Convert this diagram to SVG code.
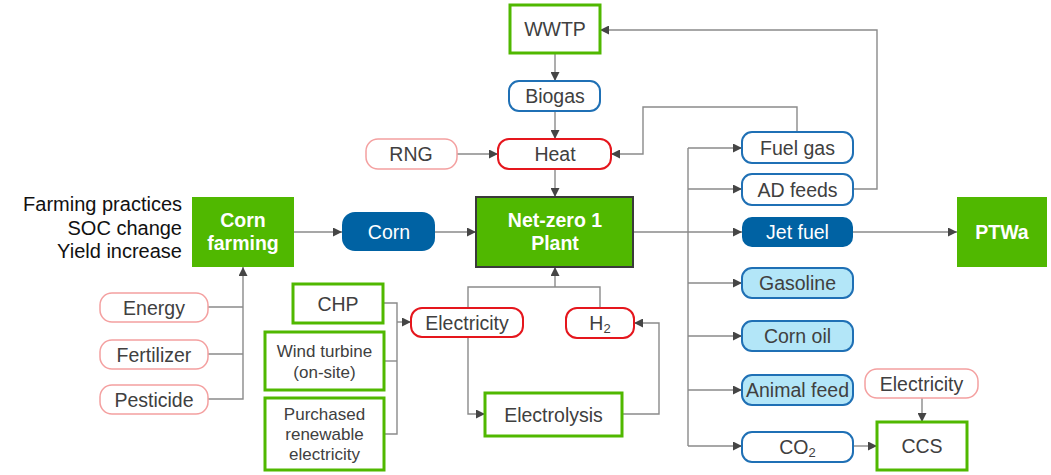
<svg xmlns="http://www.w3.org/2000/svg" width="1051" height="475" viewBox="0 0 1051 475">
<defs>
<marker id="arr" markerUnits="userSpaceOnUse" markerWidth="9" markerHeight="9" refX="9" refY="4.5" orient="auto">
<path d="M0,0 L9,4.5 L0,9 z" fill="#454545"/>
</marker>
<style>
text{font-family:"Liberation Sans",Arial,sans-serif;text-anchor:middle;dominant-baseline:central;fill:#404040;font-size:19.5px}
.w{fill:#fff}
.b{font-weight:bold}
.sm{font-size:17px}
.lab{fill:#111;text-anchor:end;font-size:20px}
.gb{fill:#fff;stroke:#50b800;stroke-width:3}
.gf{fill:#50b800}
.np{fill:#50b800;stroke:#3a3a3a;stroke-width:2}
.bp{fill:#fff;stroke:#1f70b5;stroke-width:2}
.bd{fill:#0062a3}
.bl{fill:#b3e6f8;stroke:#1f70b5;stroke-width:2}
.rp{fill:#fff;stroke:#e5161d;stroke-width:2}
.lr{fill:#fff;stroke:#f4a0a0;stroke-width:1.5}
.c path{fill:none;stroke:#8a8a8a;stroke-width:1.4}
</style>
</defs>
<rect width="1051" height="475" fill="#fff"/>

<g class="c" id="connectors">
<path d="M555,53 V81" marker-end="url(#arr)"/>
<path d="M555,111 V139" marker-end="url(#arr)"/>
<path d="M457,154 H498" marker-end="url(#arr)"/>
<path d="M555,169 V197" marker-end="url(#arr)"/>
<path d="M294,232 H342" marker-end="url(#arr)"/>
<path d="M435,232 H476" marker-end="url(#arr)"/>
<path d="M633,232 H742" marker-end="url(#arr)"/>
<path d="M688,148 V446"/>
<path d="M688,148 H742" marker-end="url(#arr)"/>
<path d="M688,189 H742" marker-end="url(#arr)"/>
<path d="M688,283 H742" marker-end="url(#arr)"/>
<path d="M688,336 H742" marker-end="url(#arr)"/>
<path d="M688,390 H742" marker-end="url(#arr)"/>
<path d="M688,446 H742" marker-end="url(#arr)"/>
<path d="M853,232 H957" marker-end="url(#arr)"/>
<path d="M853,189 H877 V30 H600" marker-end="url(#arr)"/>
<path d="M797,132 V107 H643 V154 H611" marker-end="url(#arr)"/>
<path d="M208,307 H243"/>
<path d="M208,354 H243"/>
<path d="M208,399 H243 V267" marker-end="url(#arr)"/>
<path d="M383,303 H397 V434 H384"/>
<path d="M384,361 H397"/>
<path d="M397,322 H411" marker-end="url(#arr)"/>
<path d="M468,337 V414 H485" marker-end="url(#arr)"/>
<path d="M622,414 H659 V323 H634" marker-end="url(#arr)"/>
<path d="M468,308 V287 H600 V308"/>
<path d="M555,287 V267" marker-end="url(#arr)"/>
<path d="M853,446 H877" marker-end="url(#arr)"/>
<path d="M922,398 V422" marker-end="url(#arr)"/>
</g>

<g id="wwtp"><rect class="gb" x="510" y="5" width="90" height="48"/><text x="555" y="29">WWTP</text></g>
<g id="biogas"><rect class="bp" x="509" y="81" width="91" height="30" rx="10"/><text x="555" y="96">Biogas</text></g>
<g id="rng"><rect class="lr" x="366" y="139" width="91" height="30" rx="12"/><text x="411" y="154">RNG</text></g>
<g id="heat"><rect class="rp" x="498" y="139" width="113" height="30" rx="11"/><text x="555" y="154">Heat</text></g>

<g id="factors"><text class="lab" x="182" y="204">Farming practices</text><text class="lab" x="182" y="228">SOC change</text><text class="lab" x="182" y="251">Yield increase</text></g>
<g id="cornfarming"><rect class="gf" x="192" y="197" width="102" height="70"/><text class="w b" x="243" y="220">Corn</text><text class="w b" x="243" y="243">farming</text></g>
<g id="corn"><rect class="bd" x="342" y="212" width="93" height="39" rx="13"/><text class="w" x="389" y="232">Corn</text></g>
<g id="plant"><rect class="np" x="476" y="197" width="157" height="70"/><text class="w b" x="555" y="220">Net-zero 1</text><text class="w b" x="555" y="243">Plant</text></g>

<g id="energy"><rect class="lr" x="100" y="293" width="108" height="29" rx="12"/><text x="154" y="307.5">Energy</text></g>
<g id="fertilizer"><rect class="lr" x="100" y="340" width="108" height="29" rx="12"/><text x="154" y="354.5">Fertilizer</text></g>
<g id="pesticide"><rect class="lr" x="100" y="385" width="108" height="29" rx="12"/><text x="154" y="399.5">Pesticide</text></g>

<g id="chp"><rect class="gb" x="293" y="284" width="90" height="39"/><text x="338" y="303.5">CHP</text></g>
<g id="wind"><rect class="gb" x="265" y="332" width="119" height="58"/><text class="sm" x="324.5" y="351">Wind turbine</text><text class="sm" x="324.5" y="372">(on-site)</text></g>
<g id="purchased"><rect class="gb" x="265" y="398" width="119" height="72"/><text class="sm" x="324.5" y="414">Purchased</text><text class="sm" x="324.5" y="434">renewable</text><text class="sm" x="324.5" y="454">electricity</text></g>

<g id="electricity"><rect class="rp" x="411" y="308" width="112" height="29" rx="11"/><text x="467" y="322.5">Electricity</text></g>
<g id="h2"><rect class="rp" x="566" y="308" width="68" height="30" rx="11"/><text x="600" y="323">H<tspan font-size="13" dy="5">2</tspan></text></g>
<g id="electrolysis"><rect class="gb" x="485" y="393" width="137" height="43"/><text x="553.5" y="414.5">Electrolysis</text></g>

<g id="fuelgas"><rect class="bp" x="742" y="132" width="111" height="31" rx="10"/><text x="797.5" y="147.5">Fuel gas</text></g>
<g id="adfeeds"><rect class="bp" x="742" y="174" width="111" height="31" rx="10"/><text x="797.5" y="189.5">AD feeds</text></g>
<g id="jetfuel"><rect class="bd" x="742" y="217" width="111" height="30" rx="10"/><text class="w" x="797.5" y="232">Jet fuel</text></g>
<g id="ptwa"><rect class="gf" x="957" y="197" width="90" height="70"/><text class="w b" x="1002" y="232">PTWa</text></g>
<g id="gasoline"><rect class="bl" x="742" y="268" width="111" height="30" rx="10"/><text x="797.5" y="283">Gasoline</text></g>
<g id="cornoil"><rect class="bl" x="742" y="321" width="111" height="30" rx="10"/><text x="797.5" y="336">Corn oil</text></g>
<g id="animalfeed"><rect class="bl" x="742" y="375" width="111" height="30" rx="10"/><text x="797.5" y="390">Animal feed</text></g>
<g id="co2"><rect class="bp" x="742" y="432" width="111" height="30" rx="10"/><text x="797.5" y="447">CO<tspan font-size="13" dy="5">2</tspan></text></g>
<g id="ccs-electricity"><rect class="lr" x="865" y="369" width="113" height="29" rx="12"/><text x="921.5" y="383.5">Electricity</text></g>
<g id="ccs"><rect class="gb" x="877" y="422" width="90" height="48"/><text x="922" y="446">CCS</text></g>
</svg>
